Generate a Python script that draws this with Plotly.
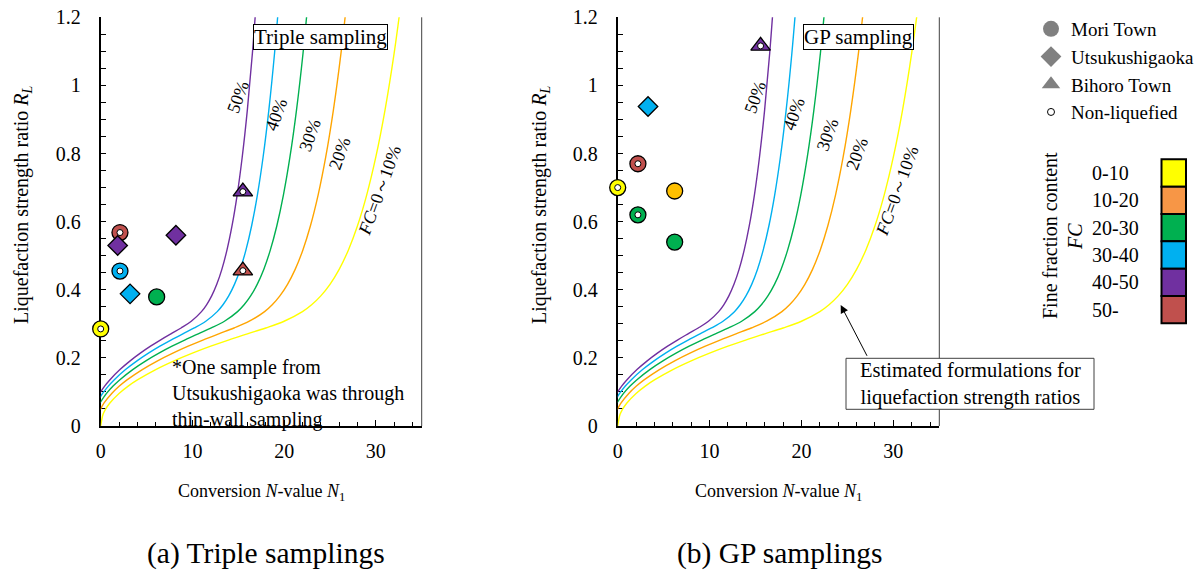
import plotly.graph_objects as go

W, H = 1198, 573
FONT = "Liberation Serif, Times New Roman, serif"

# ---------------- data ----------------
fc_classes = ["0-10", "10-20", "20-30", "30-40", "40-50", "50-"]
fc_marker_colors = ["#FFFF00", "#FFC000", "#00B050", "#00B0F0", "#7030A0", "#C0504D"]
fc_key_colors = ["#FFFF00", "#F79646", "#00B050", "#00B0F0", "#7030A0", "#C0504D"]

sites = ["Mori", "Utsukushigaoka", "Bihoro"]
site_labels = ["Mori Town", "Utsukushigaoka", "Bihoro Town"]
site_symbols = ["circle", "diamond", "triangle-up"]

# (a) triple samplings
tri_site = ["Mori", "Mori", "Utsukushigaoka", "Utsukushigaoka", "Mori",
            "Utsukushigaoka", "Mori", "Bihoro", "Bihoro"]
tri_fc = ["0-10", "50-", "40-50", "40-50", "30-40", "30-40", "20-30", "40-50", "50-"]
tri_N1 = [0.0, 2.1, 1.85, 8.2, 2.1, 3.2, 6.1, 15.5, 15.5]
tri_RL = [0.285, 0.568, 0.53, 0.56, 0.455, 0.388, 0.379, 0.688, 0.456]
tri_nonliq = [True, True, False, False, True, False, False, True, True]

# (b) GP samplings
gp_site = ["Bihoro", "Utsukushigaoka", "Mori", "Mori", "Mori", "Mori", "Mori"]
gp_fc = ["40-50", "30-40", "50-", "0-10", "10-20", "20-30", "20-30"]
gp_N1 = [15.55, 3.3, 2.2, 0.0, 6.2, 2.2, 6.2]
gp_RL = [1.116, 0.938, 0.77, 0.70, 0.69, 0.62, 0.54]
gp_nonliq = [True, False, True, True, False, True, False]

# estimated R_L curves
curve_labels = ["<i>FC</i>=0～10%", "20%", "30%", "40%", "50%"]
curve_colors = ["#FFFF00", "#FFA500", "#00B050", "#00B0F0", "#7030A0"]
curve_N1 = [
    [0, 0.25, 0.5, 1, 2, 3, 4, 6, 8, 10, 12, 14, 16, 18, 20, 22, 23, 24, 25, 26,
     27, 28, 29, 30, 31, 32, 33],
    [-0.05, 0.37, 1.204, 2.037, 2.87, 4.537, 6.204, 7.87, 9.537, 11.204, 12.87,
     14.537, 16.204, 17.87, 18.704, 19.537, 20.37, 21.204, 22.037, 22.87, 23.704,
     24.537, 25.37, 26.204, 27.037],
    [-0.079, 0.635, 1.349, 2.063, 3.492, 4.921, 6.349, 7.778, 9.206, 10.635,
     12.063, 13.492, 14.921, 15.635, 16.349, 17.063, 17.778, 18.492, 19.206,
     19.921, 20.635, 21.349, 22.063, 22.778],
    [-0.104, 0.208, 0.833, 1.458, 2.708, 3.958, 5.208, 6.458, 7.708, 8.958,
     10.208, 11.458, 12.708, 13.333, 13.958, 14.583, 15.208, 15.833, 16.458,
     17.083, 17.708, 18.333, 18.958, 19.583],
    [-0.123, 0.432, 0.988, 2.099, 3.21, 4.321, 5.432, 6.543, 7.654, 8.765, 9.877,
     10.988, 11.543, 12.099, 12.654, 13.21, 13.765, 14.321, 14.877, 15.432,
     15.988, 16.543, 17.099],
]
curve_RL = [
    [0, 0.0338, 0.0478, 0.0676, 0.0957, 0.1172, 0.1353, 0.1657, 0.1913, 0.2139,
     0.2343, 0.2531, 0.2706, 0.2878, 0.3076, 0.3358, 0.3559, 0.382, 0.4159,
     0.4598, 0.5163, 0.588, 0.678, 0.7899, 0.9276, 1.0953, 1.2975],
    [0.0478, 0.0676, 0.0957, 0.1172, 0.1353, 0.1657, 0.1913, 0.2139, 0.2343,
     0.2531, 0.2706, 0.2878, 0.3076, 0.3358, 0.3559, 0.382, 0.4159, 0.4598,
     0.5163, 0.588, 0.678, 0.7899, 0.9276, 1.0953, 1.2975],
    [0.0676, 0.0957, 0.1172, 0.1353, 0.1657, 0.1913, 0.2139, 0.2343, 0.2531,
     0.2706, 0.2878, 0.3076, 0.3358, 0.3559, 0.382, 0.4159, 0.4598, 0.5163,
     0.588, 0.678, 0.7899, 0.9276, 1.0953, 1.2975],
    [0.0829, 0.0957, 0.1172, 0.1353, 0.1657, 0.1913, 0.2139, 0.2343, 0.2531,
     0.2706, 0.2878, 0.3076, 0.3358, 0.3559, 0.382, 0.4159, 0.4598, 0.5163,
     0.588, 0.678, 0.7899, 0.9276, 1.0953, 1.2975],
    [0.0957, 0.1172, 0.1353, 0.1657, 0.1913, 0.2139, 0.2343, 0.2531, 0.2706,
     0.2878, 0.3076, 0.3358, 0.3559, 0.382, 0.4159, 0.4598, 0.5163, 0.588,
     0.678, 0.7899, 0.9276, 1.0953, 1.2975],
]
curve_label_pos = [(30.4, 0.69), (26.0, 0.80), (22.8, 0.855), (19.2, 0.915), (15.0, 0.965)]

note_lines = ["*One sample from", "Utsukushigaoka was through", "thin-wall sampling"]
formula_lines = ["Estimated formulations for", "liquefaction strength ratios"]

x_ticks_major = 10
x_ticks_minor = 2
y_ticks_major = 0.2
y_ticks_minor = 0.05


def px(xp):
    return xp / W


def py(yp):
    return 1 - yp / H


fig = go.Figure()

# curves
for ax in ["1", "2"]:
    xa = "x" if ax == "1" else "x2"
    ya = "y" if ax == "1" else "y2"
    for xs, ys, col in zip(curve_N1, curve_RL, curve_colors):
        fig.add_trace(go.Scatter(x=xs, y=ys, mode="lines", line=dict(color=col, width=1.4, shape="spline"),
                                 xaxis=xa, yaxis=ya, showlegend=False, hoverinfo="skip"))

col_of = dict(zip(fc_classes, fc_marker_colors))


def add_points(N1, RL, site, fc, nonliq, xa, ya):
    for s, sym in zip(sites, site_symbols):
        idx = [i for i, v in enumerate(site) if v == s]
        if not idx:
            continue
        size = 16 if sym == "circle" else (15 if sym == "diamond" else 17)
        fig.add_trace(go.Scatter(
            x=[N1[i] for i in idx], y=[RL[i] for i in idx], mode="markers",
            marker=dict(symbol=sym, size=size, color=[col_of[fc[i]] for i in idx],
                        line=dict(color="black", width=1.3)),
            xaxis=xa, yaxis=ya, showlegend=False, cliponaxis=False))
    idx = [i for i, v in enumerate(nonliq) if v]
    fig.add_trace(go.Scatter(
        x=[N1[i] for i in idx], y=[RL[i] for i in idx], mode="markers",
        marker=dict(symbol="circle", size=6, color="white", line=dict(color="black", width=1)),
        xaxis=xa, yaxis=ya, showlegend=False, cliponaxis=False))


add_points(tri_N1, tri_RL, tri_site, tri_fc, tri_nonliq, "x", "y")
add_points(gp_N1, gp_RL, gp_site, gp_fc, gp_nonliq, "x2", "y2")

# legend entries
for lab, sym in zip(site_labels, site_symbols):
    fig.add_trace(go.Scatter(x=[None], y=[None], mode="markers", name=lab,
                             marker=dict(symbol=sym, size=16, color="#808080")))
fig.add_trace(go.Scatter(x=[None], y=[None], mode="markers", name="Non-liquefied",
                         marker=dict(symbol="circle", size=7, color="white",
                                     line=dict(color="black", width=1))))

dom_y = [py(426), py(17.3)]
axis_common = dict(showline=True, linecolor="black", linewidth=2, showgrid=False, zeroline=False,
                   ticks="inside", tickcolor="black", tickfont=dict(family=FONT, size=20, color="black"),
                   layer="below traces", automargin=False)
xcommon = dict(axis_common, range=[0, 35], tick0=0, dtick=x_ticks_major, ticklen=6, tickwidth=1.3,
               minor=dict(dtick=x_ticks_minor, ticks="inside", ticklen=4, tickcolor="black", tickwidth=1.2),
               ticklabelstandoff=6)
ycommon = dict(axis_common, range=[0, 1.2], tick0=0, dtick=y_ticks_major, ticklen=5, tickwidth=1.2,
               minor=dict(dtick=y_ticks_minor, ticks="inside", ticklen=5, tickcolor="black", tickwidth=1.2),
               ticklabelstandoff=14, domain=dom_y)

fig.update_layout(
    width=W, height=H, margin=dict(l=0, r=0, t=0, b=0, autoexpand=False),
    plot_bgcolor="white", paper_bgcolor="white",
    xaxis=dict(xcommon, domain=[px(100.7), px(421.7)], anchor="y"),
    yaxis=dict(ycommon, anchor="x"),
    xaxis2=dict(xcommon, domain=[px(617.7), px(939.3)], anchor="y2"),
    yaxis2=dict(ycommon, anchor="x2"),
    showlegend=True,
    legend=dict(x=px(1031), y=py(10), xanchor="left", yanchor="top", bgcolor="rgba(0,0,0,0)",
                font=dict(family=FONT, size=19, color="black"), itemsizing="trace", tracegroupgap=0,
                itemwidth=30),
    font=dict(family=FONT, color="black"),
)

shapes = []
# right borders
for xr in [421.7, 939.3]:
    shapes.append(dict(type="line", xref="paper", yref="paper", x0=px(xr), x1=px(xr),
                       y0=py(426), y1=py(17.3), line=dict(color="#404040", width=1), layer="above"))
# box of the formula note
shapes.append(dict(type="rect", xref="paper", yref="paper", x0=px(846), x1=px(1094),
                   y0=py(409.3), y1=py(358.3), fillcolor="white",
                   line=dict(color="#404040", width=1), layer="above"))
# FC colour key
top, bot = 159.3, 323.3
hh = (bot - top) / len(fc_classes)
for i, c in enumerate(fc_key_colors):
    shapes.append(dict(type="rect", xref="paper", yref="paper", x0=px(1161.5), x1=px(1186),
                       y0=py(top + (i + 1) * hh), y1=py(top + i * hh),
                       fillcolor=c, line=dict(color="black", width=2)))
fig.update_layout(shapes=shapes)


def pann(text, x, y, size=20, xanchor="center", yanchor="middle", **kw):
    d = dict(text=text, x=px(x), y=py(y), xref="paper", yref="paper", showarrow=False,
             xanchor=xanchor, yanchor=yanchor, font=dict(family=FONT, size=size, color="black"))
    d.update(kw)
    return d


ann = []
# curve labels
for ax in ["x", "x2"]:
    ya = "y" if ax == "x" else "y2"
    for lab, (xx, yy) in zip(curve_labels, curve_label_pos):
        ann.append(dict(text=lab, x=xx, y=yy, xref=ax, yref=ya, showarrow=False, textangle=-70,
                        xanchor="center", yanchor="middle",
                        font=dict(family=FONT, size=18, color="black")))
# panel boxes
ann.append(pann("Triple sampling", 320.3, 36.7, size=21, bgcolor="white", bordercolor="black",
                borderwidth=1, borderpad=0))
ann.append(pann("GP sampling", 858.8, 36.7, size=21, bgcolor="white", bordercolor="black",
                borderwidth=1, borderpad=0))
# note
ann.append(pann("<br>".join(note_lines), 170, 393, size=20, xanchor="left", align="left"))
# arrow and formula box text
ann.append(dict(text=" ", x=px(840.7), y=py(305), xref="paper", yref="paper", showarrow=True,
                ax=27.6, ay=53.3, arrowhead=2, arrowsize=1.6, arrowwidth=1, arrowcolor="black",
                font=dict(size=2)))
ann.append(pann("<br>".join(formula_lines), 970, 384, size=20.5))
# axis titles
for cx in [261.2, 778.5]:
    ann.append(pann("Conversion <i>N</i>-value <i>N</i><sub>1</sub>", cx, 492, size=18))
for cx in [22, 540]:
    ann.append(pann("Liquefaction strength ratio <i>R<sub>L</sub></i>", cx, 205, size=20, textangle=-90))
# captions
ann.append(pann("(a) Triple samplings", 266, 553, size=29.5))
ann.append(pann("(b) GP samplings", 779, 553, size=29.5))
# FC key labels
for i, lab in enumerate(fc_classes):
    ann.append(pann(lab, 1090, top + (i + 0.5) * hh, size=20, xanchor="left"))
ann.append(pann("Fine fraction content", 1050, 236, size=20, textangle=-90))
ann.append(pann("<i>FC</i>", 1075, 237, size=20, textangle=-90))
fig.update_layout(annotations=ann)

fig.write_html("out.html", config={"displayModeBar": False},
               post_script="document.body.style.margin='0';")
